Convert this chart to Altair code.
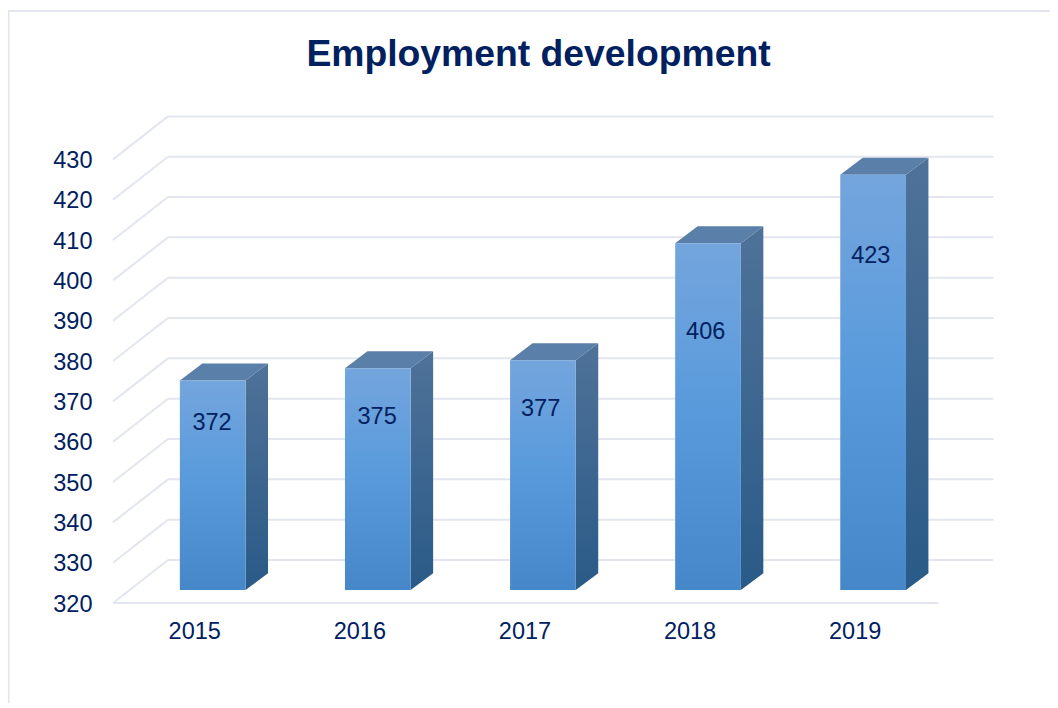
import altair as alt
import pandas as pd

years = [2015, 2016, 2017, 2018, 2019]
values = [372, 375, 377, 406, 423]
label_x = [2015.1, 2016.1, 2017.09, 2018.09, 2019.09]
label_pos = [364.65, 366.15, 368.15, 387.15, 406.05]
ticks = [320, 330, 340, 350, 360, 370, 380, 390, 400, 410, 420, 430]

INK = "#002060"
GRID = "#e3e6ee"
FONT = "Liberation Sans"

# depth expressed in data units
wall_dx, wall_dy = 0.333, 10.66
bar_dx, bar_dy = 0.136, 4.2
bar_left, bar_w = -0.095, 0.398
base = 323.2

front, side, top = [], [], []
for yr, v, lx, lp in zip(years, values, label_x, label_pos):
    l, r = yr + bar_left, yr + bar_left + bar_w
    t = base + (v - 320)
    front.append(dict(year=yr, l=l, r=r, lo=base, hi=t, lx=lx, lp=lp, v=v))
    side += [dict(year=yr, x=r, a=t, b=base),
             dict(year=yr, x=r + bar_dx, a=t + bar_dy, b=base + bar_dy)]
    top += [dict(year=yr, x=l, a=t, b=t),
            dict(year=yr, x=l + bar_dx, a=t + bar_dy, b=t),
            dict(year=yr, x=r, a=t + bar_dy, b=t),
            dict(year=yr, x=r + bar_dx, a=t + bar_dy, b=t + bar_dy)]
front, side, top = map(pd.DataFrame, (front, side, top))
grid = pd.DataFrame(dict(v=ticks))
grid["back"] = grid.v + wall_dy
grid["x0"] = 2014.5
grid["x1"] = 2014.5 + wall_dx
grid["x2"] = 2019.5 + wall_dx
floor = pd.DataFrame(dict(x0=[2014.5], x1=[2019.5], v=[320]))

xs = alt.Scale(domain=[2014.5, 2014.5 + 881 / 165.1], nice=False, zero=False)
ys = alt.Scale(domain=[320, 320 + 486.3 / 4.033], nice=False, zero=False)
xax = alt.Axis(values=years, format="d", title=None, grid=False, domain=False, ticks=False,
               labelPadding=16, labelOffset=-1.3, labelFontSize=23.5, labelColor=INK,
               labelFont=FONT, labelOverlap=False)
yax = alt.Axis(values=ticks, title=None, grid=False, domain=False, ticks=False,
               labelPadding=21, labelOffset=1, labelFontSize=23.5, labelColor=INK,
               labelFont=FONT, labelOverlap=False)

def grad(stops, x2=0, y2=1):
    return alt.Gradient(gradient="linear", x1=0, y1=0, x2=x2, y2=y2,
                        stops=[alt.GradientStop(offset=o, color=c) for o, c in stops])

back_lines = alt.Chart(grid).mark_rule(color=GRID, strokeWidth=2).encode(
    x=alt.X("x1:Q", scale=xs, axis=xax), x2="x2:Q", y=alt.Y("back:Q", scale=ys, axis=yax))
slants = alt.Chart(grid).mark_rule(color=GRID, strokeWidth=2).encode(
    x=alt.X("x0:Q", scale=xs), x2="x1:Q", y=alt.Y("v:Q", scale=ys), y2="back:Q")
floor_line = alt.Chart(floor).mark_rule(color=GRID, strokeWidth=2).encode(
    x=alt.X("x0:Q", scale=xs), x2="x1:Q", y=alt.Y("v:Q", scale=ys))

side_face = alt.Chart(side).mark_area(
    color=grad([(0, "#4f7299"), (1, "#2a5a87")])).encode(
    x=alt.X("x:Q", scale=xs), y=alt.Y("a:Q", scale=ys), y2="b:Q", detail="year:O")
top_face = alt.Chart(top).mark_area(color="#5a7fa9").encode(
    x=alt.X("x:Q", scale=xs), y=alt.Y("a:Q", scale=ys), y2="b:Q", detail="year:O")
front_face = alt.Chart(front).mark_rect(
    color=grad([(0, "#74a5dd"), (0.45, "#5a9bdc"), (1, "#4587c9")])).encode(
    x=alt.X("l:Q", scale=xs), x2="r:Q", y=alt.Y("hi:Q", scale=ys), y2="lo:Q")
labels = alt.Chart(front).mark_text(fontSize=23.5, font=FONT, color=INK).encode(
    x=alt.X("lx:Q", scale=xs), y=alt.Y("lp:Q", scale=ys), text="v:Q")

frame_top = alt.Chart(floor).mark_rule(color=GRID, strokeWidth=2).encode(
    x=alt.value(-105), x2=alt.value(945), y=alt.value(-105.7))
frame_left = alt.Chart(floor).mark_rule(color=GRID, strokeWidth=2).encode(
    x=alt.value(-104.4), y=alt.value(-105.7), y2=alt.value(590))

chart = alt.layer(
    frame_top, frame_left, back_lines, slants, floor_line,
    side_face, top_face, front_face, labels).properties(
    width=881, height=486.3,
    title=alt.TitleParams("Employment development", anchor="middle", dx=-15, dy=68,
                          fontSize=37.3, font=FONT, fontWeight="bold", color=INK),
    padding={"left": 105, "top": 108.7, "right": 56, "bottom": 100},
    autosize=alt.AutoSizeParams(type="none"),
).configure_view(stroke=None)

chart.save("out.html", embed_options={"renderer": "svg", "actions": False})
